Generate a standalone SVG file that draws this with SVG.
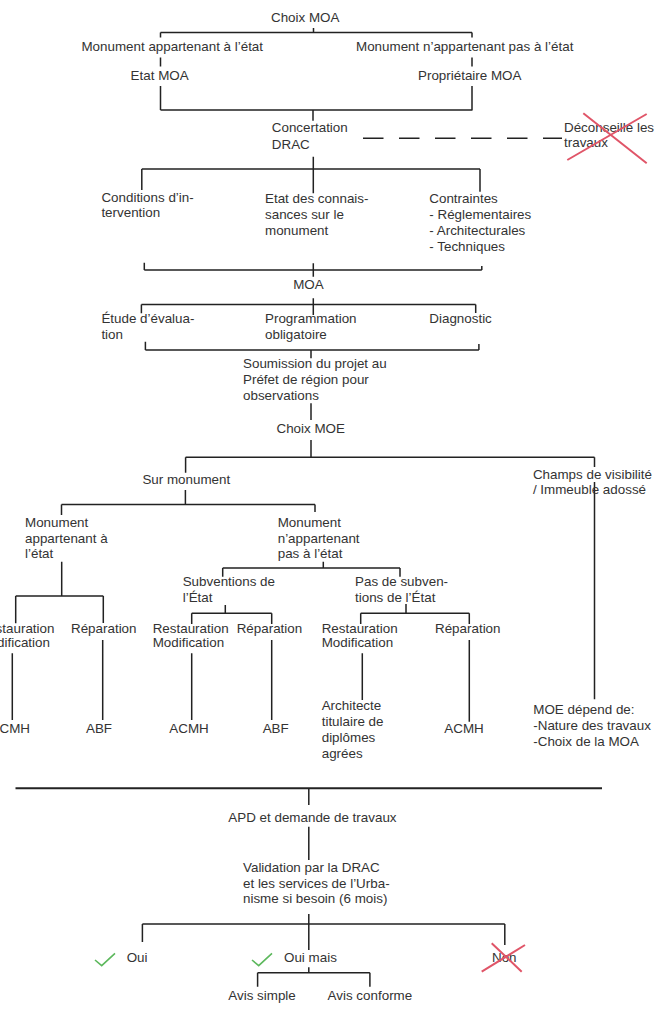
<svg xmlns="http://www.w3.org/2000/svg" width="657" height="1016" viewBox="0 0 657 1016">
<style>
text{font-family:"Liberation Sans",Arial,sans-serif;font-size:13.4px;fill:#333}
.c{fill:none;stroke:#222;stroke-width:1.5}
.big{fill:none;stroke:#222;stroke-width:2}
.dash{fill:none;stroke:#222;stroke-width:1.5;stroke-dasharray:20.5 15.5}
.x{fill:none;stroke:#e05568;stroke-width:2}
.ok{fill:none;stroke:#5cb85c;stroke-width:1.6}
</style>
<rect width="657" height="1016" fill="#fff"/>
<g id="connectors">
<path class="c" d="M313.5 28V32.5M160.5 32.5H472M160.5 32.5V37.5M472 32.5V37.5M160.5 57.5V66.5M472 57.5V66.5M160.5 86V110M472 86V110M160.5 110H472.5M313 110V120.7"/>
<path class="dash" d="M363 138.3H562"/>
<path class="c" d="M313.3 156.7V193.3M141.8 169H480M141.8 169V190M480 169V191.7"/>
<path class="c" d="M144.3 270H481.8M144.3 262.7V270M481.8 266V270M313.3 263.3V276.7"/>
<path class="c" d="M141.4 304.5H475.7M313.3 298.3V315M141.4 304.5V313.3M475.7 304.5V313"/>
<path class="c" d="M145.4 350H478.9M145.4 341.7V350M478.9 344V350M311 350V358.3"/>
<path class="c" d="M311 403.3V420M311 440V457.3M185.6 457.3H594.5M185.6 457.3V472.7M185.4 490V504.5M61.5 504.5H315M61.5 504.5V515M315 504.5V512"/>
<path class="c" d="M594.5 457.3V467M594.5 482V699.3"/>
<path class="c" d="M61.7 561.7V596M15.7 596H103.3M15.7 596V623.3M103.3 596V623M12.3 653.3V720M102.7 640V720"/>
<path class="c" d="M323.3 561.7V568M222.7 568H400M222.7 568V576.7M400 568V576.7"/>
<path class="c" d="M225.3 605V613.3M191.7 613.3H271.7M191.7 613.3V624M271.7 613.3V624M191.7 653.3V720M271.7 640V720"/>
<path class="c" d="M406 604V613.3M360.7 613.3H469.3M360.7 613.3V624M469.3 613.3V624M362.3 653.3V700M469.3 640V721.7"/>
<path class="big" d="M15.5 788.3H602"/>
<path class="c" d="M308.8 788.3V805M308.8 826.7V860M308.8 914V950M142.4 924H504.8M142.4 924V942M504.8 924V945"/>
<path class="c" d="M308.8 967.3V972.7M257.6 972.7H369.9M257.6 972.7V986.7M369.9 972.7V986.7"/>
</g>
<g id="choix-moa"><text x="271" y="22">Choix MOA</text></g>
<g id="monument-etat"><text x="81.4" y="50.7">Monument appartenant à l’état</text></g>
<g id="monument-non-etat"><text x="356" y="50.7">Monument n’appartenant pas à l’état</text></g>
<g id="etat-moa"><text x="130.6" y="80">Etat MOA</text></g>
<g id="proprietaire-moa"><text x="418" y="80">Propriétaire MOA</text></g>
<g id="concertation"><text x="271.8" y="132.3">Concertation</text><text x="271.8" y="149">DRAC</text></g>
<g id="deconseille"><text x="564" y="131.7">Déconseille les</text><text x="564" y="146.7">travaux</text>
<path class="x" d="M583.3 113.3L646.7 163.3M646.7 114L567.3 160"/></g>
<g id="conditions"><text x="101.4" y="201.7">Conditions d’in-</text><text x="101.4" y="217.3">tervention</text></g>
<g id="connaissances"><text x="265" y="203.3">Etat des connais-</text><text x="265" y="219.3">sances sur le</text><text x="265" y="235.3">monument</text></g>
<g id="contraintes"><text x="429.3" y="203.3">Contraintes</text><text x="429.3" y="219.3">- Réglementaires</text><text x="429.3" y="235.3">- Architecturales</text><text x="429.3" y="251.3">- Techniques</text></g>
<g id="moa"><text x="293.2" y="289.3">MOA</text></g>
<g id="etude"><text x="101.4" y="323.3">Étude d’évalua-</text><text x="101.4" y="339.3">tion</text></g>
<g id="programmation"><text x="265" y="323.3">Programmation</text><text x="265" y="339.3">obligatoire</text></g>
<g id="diagnostic"><text x="429.3" y="323.3">Diagnostic</text></g>
<g id="soumission"><text x="243" y="368.3">Soumission du projet au</text><text x="243" y="384.3">Préfet de région pour</text><text x="243" y="400">observations</text></g>
<g id="choix-moe"><text x="276.5" y="433.3">Choix MOE</text></g>
<g id="sur-monument"><text x="142.4" y="484">Sur monument</text></g>
<g id="champs"><text x="532.9" y="479.3">Champs de visibilité</text><text x="532.9" y="494.3">/ Immeuble adossé</text></g>
<g id="mon-etat"><text x="25" y="526.7">Monument</text><text x="25" y="542.7">appartenant à</text><text x="25" y="558.3">l’état</text></g>
<g id="mon-non-etat"><text x="277.7" y="526.7">Monument</text><text x="277.7" y="542.7">n’appartenant</text><text x="277.7" y="558.3">pas à l’état</text></g>
<g id="subventions"><text x="182.7" y="586">Subventions de</text><text x="182.7" y="601.7">l’État</text></g>
<g id="pas-subventions"><text x="355" y="586">Pas de subven-</text><text x="355" y="601.7">tions de l’État</text></g>
<g id="rest1"><text x="-21.5" y="633.3">Restauration</text><text x="-21.5" y="646.7">Modification</text></g>
<g id="rep1"><text x="71" y="633.3">Réparation</text></g>
<g id="rest2"><text x="152.7" y="633.3">Restauration</text><text x="152.7" y="646.7">Modification</text></g>
<g id="rep2"><text x="236.7" y="633.3">Réparation</text></g>
<g id="rest3"><text x="321.7" y="633.3">Restauration</text><text x="321.7" y="646.7">Modification</text></g>
<g id="rep3"><text x="435" y="633.3">Réparation</text></g>
<g id="acmh1"><text x="-9.4" y="733.3">ACMH</text></g>
<g id="abf1"><text x="86" y="733.3">ABF</text></g>
<g id="acmh2"><text x="169.3" y="733.3">ACMH</text></g>
<g id="abf2"><text x="262.7" y="733.3">ABF</text></g>
<g id="architecte"><text x="321.7" y="710">Architecte</text><text x="321.7" y="726">titulaire de</text><text x="321.7" y="742.3">diplômes</text><text x="321.7" y="758.3">agrées</text></g>
<g id="acmh3"><text x="444.3" y="733.3">ACMH</text></g>
<g id="moe-depend"><text x="533.3" y="714.3">MOE dépend de:</text><text x="533.3" y="730">-Nature des travaux</text><text x="533.3" y="746">-Choix de la MOA</text></g>
<g id="apd"><text x="228.3" y="822.3">APD et demande de travaux</text></g>
<g id="validation"><text x="243" y="872">Validation par la DRAC</text><text x="243" y="887.7">et les services de l’Urba-</text><text x="243" y="903.3">nisme si besoin (6 mois)</text></g>
<g id="oui"><polyline class="ok" points="95,960 101.7,965.7 115,953.3"/><text x="126.7" y="962.3">Oui</text></g>
<g id="oui-mais"><polyline class="ok" points="252,960 258.7,965.7 272,953.3"/><text x="284" y="962.3">Oui mais</text></g>
<g id="non"><text x="492" y="962">Non</text><path class="x" d="M481.7 971.7L525 945M491.7 943.3L521.7 971.7"/></g>
<g id="avis-simple"><text x="228.3" y="1000">Avis simple</text></g>
<g id="avis-conforme"><text x="327.6" y="1000">Avis conforme</text></g>
</svg>
